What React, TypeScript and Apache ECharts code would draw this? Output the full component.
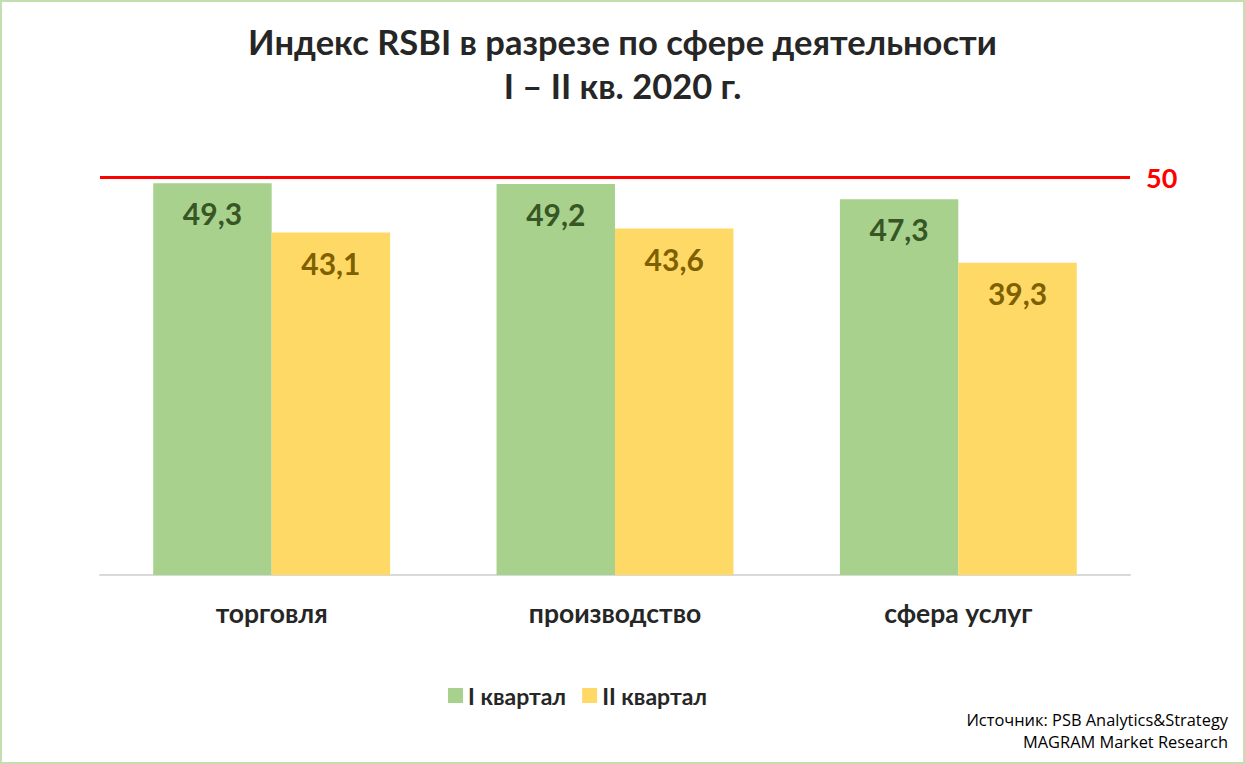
import React, { useEffect, useRef } from "react";
import * as echarts from "echarts";

const categories = ["торговля", "производство", "сфера услуг"];
const q1Values = [49.3, 49.2, 47.3];
const q2Values = [43.1, 43.6, 39.3];
const seriesNames = ["I квартал", "II квартал"];
const thresholdValue = 50;
const titleLines = ["Индекс RSBI в разрезе по сфере деятельности", "I – II кв. 2020 г."];
const sourceLines = ["Источник: PSB Analytics&Strategy", "MAGRAM Market Research"];

const FONT = "Lato, 'Open Sans', 'DejaVu Sans', sans-serif";

export default function App() {
  const ref = useRef<HTMLDivElement>(null);
  useEffect(() => {
    if (!ref.current) return;
    const chart = echarts.init(ref.current, undefined, { renderer: "svg" });
    const labelFmt = (p: any) => String(p.value).replace(".", ",");
    chart.setOption({
      animation: false,
      backgroundColor: "#ffffff",
      title: {
        text: titleLines.join("\n"),
        left: "center",
        top: 12,
        textStyle: {
          fontFamily: FONT,
          fontSize: 34.5,
          fontWeight: "bold",
          color: "#262626",
          lineHeight: 44,
        },
      },
      legend: {
        data: seriesNames,
        left: 441,
        top: 677,
        itemWidth: 15,
        itemHeight: 15,
        itemGap: 16,
        icon: "rect",
        textStyle: { fontFamily: FONT, fontSize: 23, fontWeight: "bold", color: "#262626" },
      },
      graphic: [
        {
          type: "text",
          right: 15,
          top: 709,
          style: {
            text: sourceLines[0],
            fontFamily: "'Open Sans', Lato, sans-serif",
            fontSize: 16.4,
            fill: "#000000",
          },
        },
        {
          type: "text",
          right: 15,
          top: 731,
          style: {
            text: sourceLines[1],
            fontFamily: "'Open Sans', Lato, sans-serif",
            fontSize: 16.4,
            fill: "#000000",
          },
        },
      ],
      grid: { left: 98, right: 113, top: 136, bottom: 187, containLabel: false },
      xAxis: {
        type: "category",
        data: categories,
        axisLine: { lineStyle: { color: "#d9d9d9", width: 2 } },
        axisTick: { show: false },
        axisLabel: {
          margin: 24,
          fontFamily: FONT,
          fontSize: 26.5,
          fontWeight: "bold",
          color: "#262626",
        },
      },
      yAxis: {
        type: "value",
        min: 0,
        max: 55,
        show: false,
        splitLine: { show: false },
      },
      series: [
        {
          name: seriesNames[0],
          type: "bar",
          data: q1Values,
          barGap: "0%",
          barCategoryGap: "31%",
          itemStyle: { color: "#a9d18e" },
          label: {
            show: true,
            position: "insideTop",
            distance: 15,
            formatter: labelFmt,
            fontFamily: FONT,
            fontSize: 30,
            fontWeight: "bold",
            color: "#375623",
          },
          markLine: {
            symbol: "none",
            silent: true,
            data: [{ yAxis: thresholdValue }],
            lineStyle: { color: "#ff0000", width: 3, type: "solid" },
            label: {
              show: true,
              position: "end",
              distance: 16,
              formatter: String(thresholdValue),
              fontFamily: FONT,
              fontSize: 27,
              fontWeight: "bold",
              color: "#ff0000",
            },
          },
        },
        {
          name: seriesNames[1],
          type: "bar",
          data: q2Values,
          itemStyle: { color: "#ffd966" },
          label: {
            show: true,
            position: "insideTop",
            distance: 15,
            formatter: labelFmt,
            fontFamily: FONT,
            fontSize: 30,
            fontWeight: "bold",
            color: "#7f6000",
          },
        },
      ],
    });
    return () => chart.dispose();
  }, []);
  return (
    <div
      style={{
        position: "fixed",
        left: 0,
        top: 0,
        width: 1245,
        height: 764,
        boxSizing: "border-box",
        border: "2px solid #c5deb0",
        background: "#fff",
      }}
    >
      <div ref={ref} style={{ width: 1241, height: 760 }} />
    </div>
  );
}
